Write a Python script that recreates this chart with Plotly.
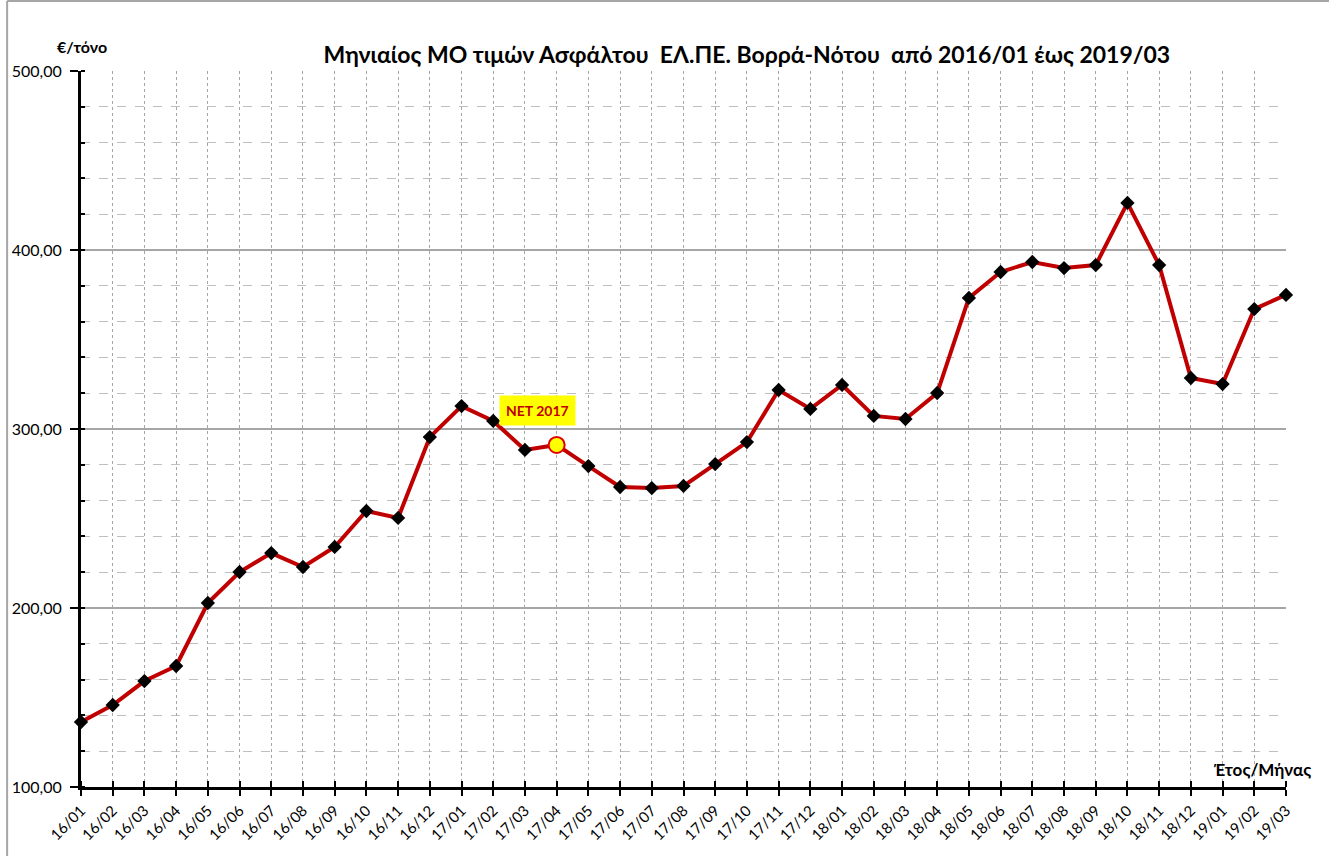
import plotly.graph_objects as go

months = ["16/01","16/02","16/03","16/04","16/05","16/06","16/07","16/08","16/09","16/10","16/11","16/12",
          "17/01","17/02","17/03","17/04","17/05","17/06","17/07","17/08","17/09","17/10","17/11","17/12",
          "18/01","18/02","18/03","18/04","18/05","18/06","18/07","18/08","18/09","18/10","18/11","18/12",
          "19/01","19/02","19/03"]
prices = [136.3,145.8,159.2,167.6,202.8,220.1,230.7,222.9,234.1,254.2,250.3,295.5,
          312.8,304.5,288.3,291.1,279.3,267.6,267.0,268.2,280.4,292.7,321.8,311.2,
          324.6,307.3,305.6,320.1,373.2,387.7,393.3,389.9,391.6,426.3,391.6,328.5,
          325.1,367.0,374.9]
highlight_month = "17/04"
highlight_label = "NET 2017"
y_ticks = [100, 200, 300, 400, 500]
y_ticktext = ["100,00", "200,00", "300,00", "400,00", "500,00"]

FONT = "Lato"
xs = list(range(len(months)))
hi = months.index(highlight_month)

fig = go.Figure()
fig.add_trace(go.Scatter(
    x=xs, y=prices, mode="lines+markers",
    line=dict(color="#C00000", width=4),
    marker=dict(symbol="diamond", size=11, color="black"),
    cliponaxis=False, showlegend=False,
))
fig.add_trace(go.Scatter(
    x=[xs[hi]], y=[prices[hi]], mode="markers",
    marker=dict(symbol="circle", size=16, color="#FFFF00", line=dict(color="#E00000", width=2)),
    cliponaxis=False, showlegend=False,
))

fig.add_annotation(
    x=xs[hi] - 0.6, y=310.6, xref="x", yref="y",
    text="<b>" + highlight_label + "</b>", showarrow=False,
    bgcolor="#FFFF00", font=dict(family=FONT, size=14, color="#C00000"),
    borderpad=6,
)

fig.update_layout(
    width=1329, height=856,
    margin=dict(l=79, r=43, t=71, b=69),
    paper_bgcolor="white", plot_bgcolor="white",
    title=dict(text="<b>Μηνιαίος ΜΟ τιμών Ασφάλτου  ΕΛ.ΠΕ. Βορρά-Νότου  από 2016/01 έως 2019/03</b>",
               x=(746 - 79) / 1207, xref="paper", xanchor="center",
               y=1 - 55 / 856, yref="container", yanchor="middle",
               font=dict(family=FONT, size=23, color="black")),
    font=dict(family=FONT, color="black"),
)

fig.update_xaxes(
    range=[0, len(months) - 1],
    tickvals=xs, ticktext=months, tickangle=-45,
    tickfont=dict(family=FONT, size=15, color="black"),
    showline=True, linecolor="black", linewidth=3,
    ticks="outside", ticklen=6, tickwidth=2, tickcolor="black",
    showgrid=True, gridcolor="#A6A6A6", griddash="dot", gridwidth=1,
    minor=dict(tick0=0, dtick=1, ticks="inside", ticklen=6, tickwidth=2, tickcolor="black", showgrid=False),
    zeroline=False,
)
fig.update_yaxes(
    range=[100, 500],
    tickvals=y_ticks, ticktext=y_ticktext,
    tickfont=dict(family=FONT, size=16, color="black"),
    showline=True, linecolor="black", linewidth=3,
    ticks="outside", ticklen=8, tickwidth=2, tickcolor="black",
    ticklabelstandoff=5,
    showgrid=True, gridcolor="#A6A6A6", gridwidth=1.5,
    minor=dict(tick0=100, dtick=20, ticks="inside", ticklen=4, tickwidth=2, tickcolor="black",
               showgrid=True, gridcolor="#BFBFBF", griddash="dash", gridwidth=1),
    zeroline=False,
)

# axis titles placed as in the original
fig.add_annotation(x=(80 - 79) / 1207, y=(787 - 47) / 716, xref="paper", yref="paper",
                   text="<b>€/τόνο</b>", showarrow=False, xanchor="center", yanchor="middle",
                   font=dict(family=FONT, size=16, color="black"))
fig.add_annotation(x=(1313 - 79) / 1207, y=(787 - 769) / 716, xref="paper", yref="paper",
                   text="<b>Έτος/Μήνας</b>", showarrow=False, xanchor="right", yanchor="middle",
                   font=dict(family=FONT, size=17, color="black"))

# chart-area border
fig.add_shape(type="line", xref="paper", yref="paper",
              x0=(5 - 79) / 1207, x1=(5 - 79) / 1207, y0=(787 - 1) / 716, y1=(787 - 860) / 716,
              line=dict(color="#A6A6A6", width=2))
fig.add_shape(type="line", xref="paper", yref="paper",
              x0=(5 - 79) / 1207, x1=(1335 - 79) / 1207, y0=(787 - 1) / 716, y1=(787 - 1) / 716,
              line=dict(color="#A6A6A6", width=2))

fig.write_html("out.html", config={"displayModeBar": False},
               post_script="document.body.style.margin='0px';")
